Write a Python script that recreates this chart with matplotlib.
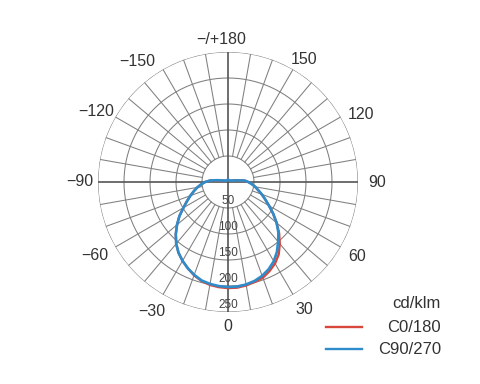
import numpy as np
import matplotlib
matplotlib.use("Agg")
import matplotlib.pyplot as plt
from matplotlib.lines import Line2D

plt.rcParams['font.family'] = ['Liberation Sans', 'DejaVu Sans']

# ---- data ----
angles_deg = [-180, -150, -120, -110, -100, -95, -90, -85, -80, -75, -70, -65, -60,
              -55, -50, -45, -40, -35, -30, -25, -20, -15, -10, -5, 0,
              5, 10, 15, 20, 25, 30, 35, 40, 45, 50, 55, 60, 65, 70, 75, 80, 85,
              90, 95, 100, 110, 120, 150, 180]
c90_270 = [4, 4, 5, 8, 20, 34, 44, 52, 60, 68, 77, 87, 99,
           114, 128, 142, 155, 166, 175, 183, 190, 196, 199, 201, 202,
           202, 200, 197, 192, 185, 176, 164, 150, 137, 122, 106, 91, 79, 69, 60, 53, 46,
           39, 32, 18, 8, 5, 4, 4]
c0_180 = [4, 4, 5, 8, 20, 34, 44, 52, 60, 68, 77, 87, 99,
          114, 128, 142, 155, 166, 175, 183, 191, 197, 201, 203, 204,
          204, 202, 199, 196, 189, 181, 170, 155, 139, 122, 106, 91, 79, 69, 60, 53, 46,
          39, 32, 18, 8, 5, 4, 4]
ring_values = [50, 100, 150, 200, 250]
angle_labels = ['0', '30', '60', '90', '120', '150', '\u2212/+180',
                '\u2212150', '\u2212120', '\u221290', '\u221260', '\u221230']
unit_label = 'cd/klm'
series_names = ['C0/180', 'C90/270']
series_colors = ['#d8473c', '#2f8ccb']

# label placement (layout only): polar angle (deg) and radius factor
label_theta = [0, 31, 60, 90, 117, 148, 182.8, -143, -118, -90, -61, -30.5]
label_rfac = [1.11, 1.145, 1.15, 1.145, 1.15, 1.11, 1.10, 1.16, 1.15, 1.14, 1.17, 1.155]

W, H = 480, 384
fig = plt.figure(figsize=(W / 100, H / 100), dpi=100)
cx, cy, R = 228, 182, 130
ax = fig.add_axes([(cx - R) / W, (H - cy - R) / H, 2 * R / W, 2 * R / H], projection='polar')
ax.set_theta_zero_location('S')
ax.set_theta_direction(1)
rmax = ring_values[-1]
ax.set_ylim(0, rmax)
ax.grid(False)
ax.set_xticks([])
ax.set_yticks([])
ax.spines['polar'].set_visible(False)
ax.patch.set_visible(False)

grid_c = '#7f7f7f'
t = np.linspace(0, 2 * np.pi, 361)
for rv in ring_values:
    ax.plot(t, np.full_like(t, rv), color=grid_c, lw=0.75, zorder=1)
for a in range(0, 360, 10):
    if a % 90 == 0:
        continue
    th = np.deg2rad(a)
    ax.plot([th, th], [ring_values[0], rmax], color=grid_c, lw=0.75, zorder=1)
# main axes lines (darker, through centre)
for a in (0, 90):
    th = np.deg2rad(a)
    ax.plot([th, th], [0, rmax], color='#555555', lw=1.2, zorder=1)
    ax.plot([th + np.pi, th + np.pi], [0, rmax], color='#555555', lw=1.2, zorder=1)

# curves
th_data = np.deg2rad(angles_deg)
ax.plot(th_data, c0_180, color=series_colors[0], lw=1.7, zorder=3, clip_on=False)
ax.plot(th_data, c90_270, color=series_colors[1], lw=1.9, zorder=4, clip_on=False)

# radial labels
for rv in ring_values:
    ax.text(0, rv - 13, str(rv), ha='center', va='center', fontsize=8.5,
            color='#444444', zorder=5)

# angle labels
for a, rf, lab in zip(label_theta, label_rfac, angle_labels):
    ax.text(np.deg2rad(a), rmax * rf, lab, ha='center', va='center',
            fontsize=11.5, color='#333333', clip_on=False)

# legend
def fx(x):
    return x / W

def fy(y):
    return 1 - y / H

fig.text(fx(441), fy(304), unit_label, ha='right', va='center', fontsize=12, color='#333333')
for i, (name, col) in enumerate(zip(series_names, series_colors)):
    yy = 327 + i * 22
    fig.add_artist(Line2D([fx(326), fx(362)], [fy(yy), fy(yy)], color=col, lw=1.7))
    fig.text(fx(441), fy(yy), name, ha='right', va='center', fontsize=12, color='#333333')

fig.savefig('out.png', dpi=100)
